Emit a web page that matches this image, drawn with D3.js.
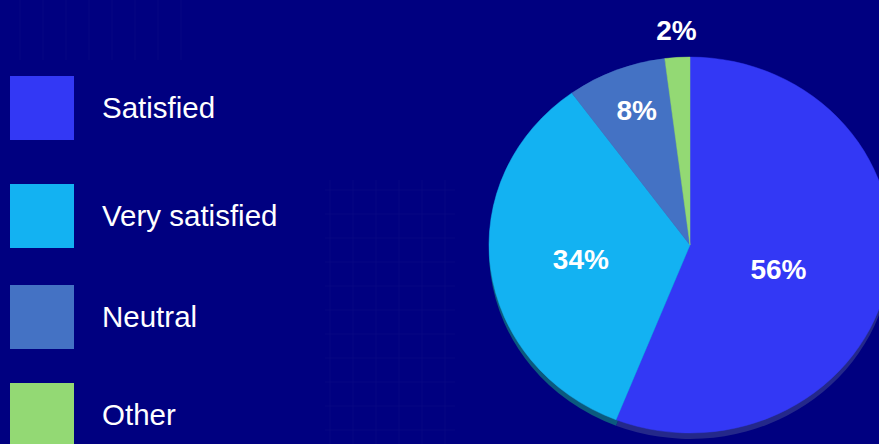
<!DOCTYPE html>
<html>
<head>
<meta charset="utf-8">
<script src="https://cdn.jsdelivr.net/npm/d3@7"></script>
<style>
  html, body { margin: 0; padding: 0; background: #000080; }
  svg { display: block; }
</style>
</head>
<body>
<svg id="chart" width="879" height="444"></svg>
<script>
// ---- data ----
const categories = ["Satisfied", "Very satisfied", "Neutral", "Other"];
const values = [56, 34, 8, 2];
const labels = ["56%", "34%", "8%", "2%"];
const colors = ["#3338F5", "#13B2F2", "#4472C4", "#93D974"];
const sideColors = ["#24288a", "#0b5a7e", "#2a4a82", "#4c7a3e"];

// ---- layout ----
const W = 879, H = 444;
const cx = 690, cy = 245, R = 201, ky = 0.935, depth = 6;
const labelDist = [90, 110, 145, 215];
const labelDy = [17, 10, 10, 10];
const legendX = 10, legendSize = 64, legendTextX = 102;
const legendTops = [76, 184, 285, 383];

const svg = d3.select("#chart");
svg.append("rect").attr("width", W).attr("height", H).attr("fill", "#000080");

// faint background grid decoration
const grid = svg.append("g").attr("stroke", "rgba(255,255,255,0.025)").attr("stroke-width", 1);
d3.range(330, 460, 23).forEach(x => grid.append("line").attr("x1", x).attr("x2", x).attr("y1", 180).attr("y2", H));
d3.range(190, H, 24).forEach(y => grid.append("line").attr("x1", 325).attr("x2", 455).attr("y1", y).attr("y2", y));
d3.range(20, 200, 23).forEach(x => grid.append("line").attr("x1", x).attr("x2", x).attr("y1", 0).attr("y2", 60));

// ---- pie ----
const pieData = d3.pie().sort(null).value(d => d)(values);
const arc = d3.arc().innerRadius(0).outerRadius(R);

// side (3D depth)
const sideG = svg.append("g").attr("transform", `translate(${cx},${cy + depth}) scale(1,${ky})`);
sideG.selectAll("path").data(pieData).join("path")
  .attr("d", arc).attr("fill", (d, i) => sideColors[i]);

const faceG = svg.append("g").attr("transform", `translate(${cx},${cy}) scale(1,${ky})`);
faceG.selectAll("path").data(pieData).join("path")
  .attr("d", arc).attr("fill", (d, i) => colors[i])
  .attr("stroke", (d, i) => colors[i]).attr("stroke-width", 0.5);

// labels
svg.append("g").selectAll("text").data(pieData).join("text")
  .attr("x", (d, i) => cx + labelDist[i] * Math.sin((d.startAngle + d.endAngle) / 2))
  .attr("y", (d, i) => cy - labelDist[i] * Math.cos((d.startAngle + d.endAngle) / 2) + labelDy[i])
  .attr("text-anchor", "middle")
  .attr("font-family", "Liberation Sans, Arial, sans-serif")
  .attr("font-weight", "bold")
  .attr("font-size", 28)
  .attr("fill", "#ffffff")
  .text((d, i) => labels[i]);

// ---- legend ----
const leg = svg.append("g").selectAll("g").data(categories).join("g")
  .attr("transform", (d, i) => `translate(${legendX},${legendTops[i]})`);
leg.append("rect").attr("width", legendSize).attr("height", legendSize)
  .attr("fill", (d, i) => colors[i]);
leg.append("text")
  .attr("x", legendTextX - legendX).attr("y", legendSize / 2 + 10)
  .attr("font-family", "Liberation Sans, Arial, sans-serif")
  .attr("font-size", 29.5)
  .attr("fill", "#ffffff")
  .text(d => d);
</script>
</body>
</html>
